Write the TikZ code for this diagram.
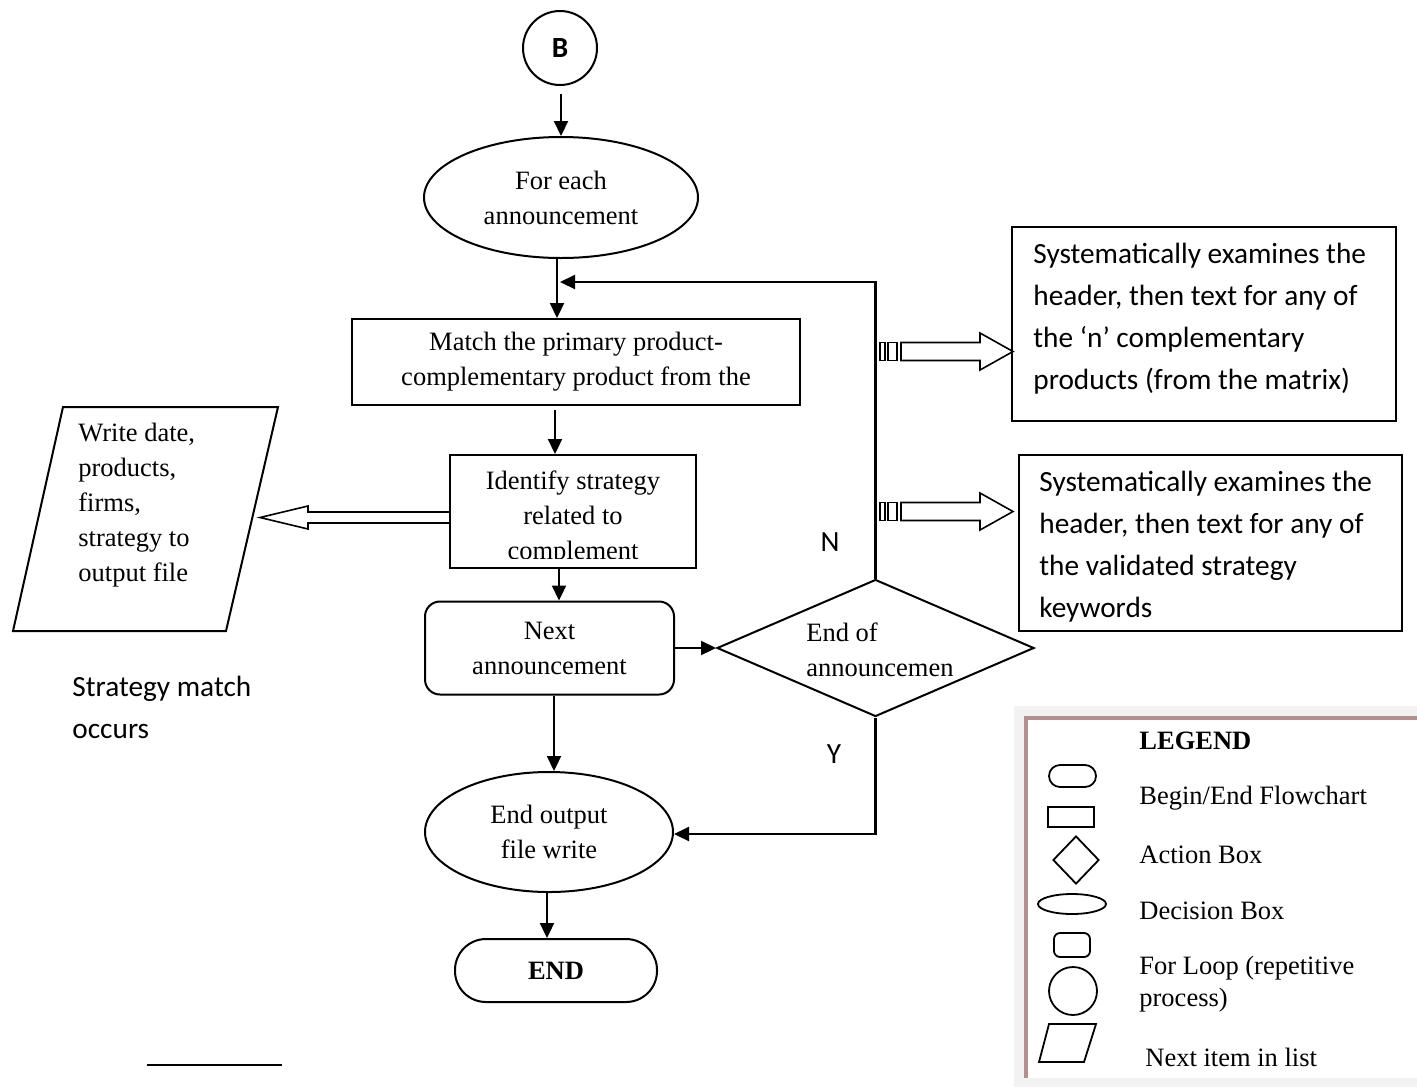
\documentclass[tikz,border=0pt]{standalone}
\usepackage{fontspec}
\setmainfont{Liberation Serif}
\newfontfamily\calib{Carlito}
\usetikzlibrary{shapes.geometric,arrows.meta,calc}
\definecolor{legbrd}{RGB}{181,142,142}
\definecolor{leggray}{RGB}{242,242,242}
\tikzset{
  tnr/.style={font=\fontsize{13.25}{17.5}\selectfont},
  cal/.style={font=\calib\fontsize{14.65}{21}\selectfont},
  box/.style={draw, line width=1pt, inner sep=0pt, fill=white},
  lbox/.style={draw, line width=0.9pt, inner sep=0pt},
  arr/.style={line width=1.1pt, -{Triangle[length=7.5pt,width=7pt]}},
  hollow/.style={line width=0.8pt},
  txt/.style={inner sep=0pt, align=left, anchor=west}
}
\begin{document}
\begin{tikzpicture}[x=0.5pt,y=-0.5pt]
\useasboundingbox (0,0) rectangle (1417,1087);

% legend background
\fill[leggray] (1014,706) rectangle (1417,1087);
\fill[legbrd] (1024,716) rectangle (1417,720);
\fill[legbrd] (1024,716) rectangle (1028,1078);
\fill[white] (1028,720) rectangle (1417,1078);

% main flow
\node[box, circle, minimum size=37pt, font=\calib\bfseries\fontsize{14.65}{21}\selectfont] (B) at (560,48) {B};
\node[box, ellipse, minimum width=137pt, minimum height=60.5pt, tnr, align=center] (foreach) at (561,197.5) {For each\\announcement};
\node[box, minimum width=224pt, minimum height=43pt, tnr, align=center] (match) at (576,362) {Match the primary product-\\complementary product from the};
\node[box, minimum width=123pt, minimum height=56.5pt] (ident) at (573,511.5) {};
\begin{scope}
  \clip (452,456) rectangle (694,558);
  \node[tnr, align=center, inner sep=0pt] (identtxt) at (573,518) {Identify strategy\\related to\\complement};
\end{scope}
\node[box, rounded corners=7.5pt, minimum width=124.5pt, minimum height=46.5pt, tnr, align=center] (next) at (549.5,648) {Next\\announcement};
\node[box, diamond, minimum width=158.5pt, minimum height=68.5pt] (dec) at (875.5,648) {};
\node[tnr, txt] (dectxt) at (806,649.5) {End of\\announcemen};
\node[box, ellipse, minimum width=124pt, minimum height=60pt, tnr, align=center] (endout) at (549,832) {End output\\file write};
\node[box, rounded corners=15.5pt, minimum width=101pt, minimum height=31.5pt, tnr] (END) at (556,970.5) {\textbf{END}};

% output parallelogram
\draw[line width=1pt] (63,407) coordinate (pa) -- (278,407) coordinate (pb) -- (226,631) coordinate (pc) -- (13,631) coordinate (pd) -- cycle;
\node[tnr, txt] (write) at (78,505) {Write date,\\products,\\firms,\\strategy to\\output file};
\node[cal, txt] (smatch) at (72,707) {Strategy match\\occurs};

% side boxes
\node[box, minimum width=192pt, minimum height=97pt] (box1) at (1204,324) {};
\node[cal, txt] (box1txt) at (1033,318.5) {Systematically examines the\\header, then text for any of\\the ‘n’ complementary\\products (from the matrix)};
\node[box, minimum width=191.5pt, minimum height=88pt] (box2) at (1210.5,543) {};
\node[cal, txt] (box2txt) at (1039,546.75) {Systematically examines the\\header, then text for any of\\the validated strategy\\keywords};

% connectors
\draw[arr] ($(B.south)+(1,8)$) -- (foreach.north);
\draw[arr] ($(foreach.south)+(-4,0)$) -- ($(match.north)+(-19,0)$);
\draw[arr] ($(match.south)+(-21,4)$) -- ($(ident.north)+(-18,0)$);
\draw[arr] ($(ident.south)+(-14,0)$) -- ($(next.north)+(9.5,0)$);
\draw[arr] (next.east) -- (dec.west);
\draw[arr] ($(next.south)+(4.5,0)$) -- ($(endout.north)+(5,0)$);
\draw[arr] ($(endout.south)+(-2,0)$) -- ($(END.north)+(-9,0)$);
\coordinate (loopend) at (560,282);
\draw[arr] (dec.north) |- (loopend);
\draw[arr] (dec.south) |- ($(endout.east)+(0,2)$);
\node[cal] (N) at (830,542) {N};
\node[cal] (Y) at (834,754) {Y};

% hollow arrows
\draw[hollow] ($(ident.west)+(0,0.5)$) -- (308,512) -- (308,506) -- (260,517.5) -- (308,529) -- (308,523) -- ($(ident.west)+(0,11.5)$);
\foreach \yc in {351.5,511.5}{
  \draw[hollow] (880,\yc-9) rectangle (885,\yc+9);
  \draw[hollow] (888,\yc-9) rectangle (897,\yc+9);
  \draw[hollow] (901,\yc-9) -- (980,\yc-9) -- (980,\yc-18.5) -- (1013,\yc) -- (980,\yc+18.5) -- (980,\yc+9) -- (901,\yc+9) -- cycle;
}

% footnote rule
\draw[line width=1pt] (147,1065) coordinate (fa) -- (282,1065) coordinate (fb);

% legend
\node[tnr, txt] (legt) at (1139,741) {\textbf{LEGEND}};
\node[lbox, rounded corners=5.5pt, minimum width=23.5pt, minimum height=11pt] (l1) at (1072.5,776) {};
\node[lbox, minimum width=23pt, minimum height=10pt] (l2) at (1071,817) {};
\node[lbox, diamond, minimum width=23pt, minimum height=24pt] (l3) at (1076,860) {};
\node[lbox, ellipse, minimum width=34pt, minimum height=10pt] (l4) at (1072,904) {};
\node[lbox, rounded corners=3pt, minimum width=18pt, minimum height=12pt] (l5) at (1072,945) {};
\node[lbox, circle, minimum size=24pt] (l6) at (1073,991) {};
\draw[line width=0.9pt] (1049,1024) -- (1096,1024) -- (1084,1062) -- (1039,1062) -- cycle;
\node[tnr, txt] (lt1) at (1139,798) {Begin/End Flowchart};
\node[tnr, txt] (lt2) at (1139,855) {Action Box};
\node[tnr, txt] (lt3) at (1139,911) {Decision Box};
\node[txt, font=\fontsize{13.25}{16}\selectfont] (lt4) at (1139,984) {For Loop (repetitive\\process)};
\node[tnr, txt] (lt5) at (1145,1057) {Next item in list};
\end{tikzpicture}
\end{document}
